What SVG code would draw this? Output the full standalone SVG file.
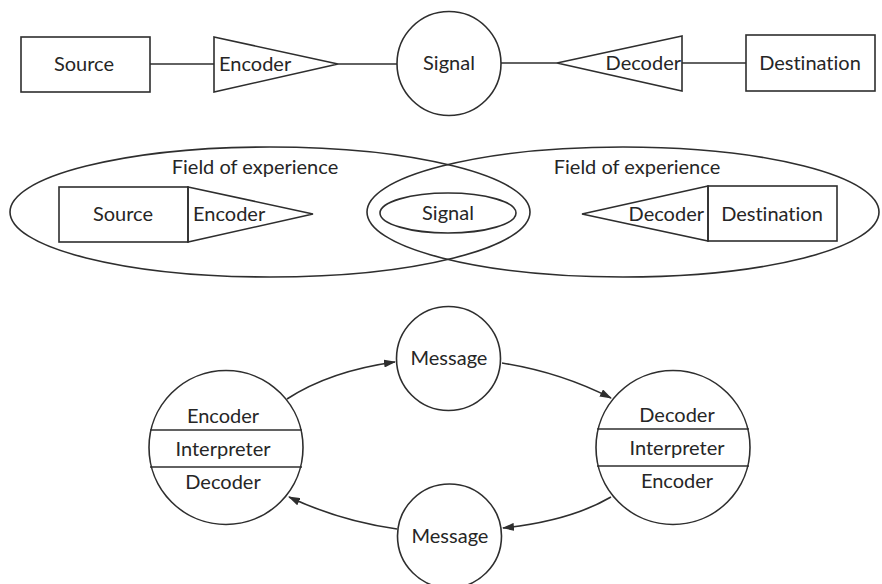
<svg xmlns="http://www.w3.org/2000/svg" width="882" height="584" viewBox="0 0 882 584">
  <defs>
    <style>
      .shape { fill: none; stroke: #2e2e2e; stroke-width: 1.6; }
      .line { fill: none; stroke: #2e2e2e; stroke-width: 1.6; }
      .lbl { font-family: Lato, "Open Sans", "Liberation Sans", sans-serif; font-size: 20px; fill: #262626; text-anchor: middle; font-variant-ligatures: none; }
      .start { text-anchor: start; }
      .end { text-anchor: end; }
    </style>
    <marker id="arrow" viewBox="0 0 12 8" refX="11" refY="4" markerWidth="12" markerHeight="8" markerUnits="userSpaceOnUse" orient="auto">
      <path d="M0,0 L12,4 L0,8 Z" fill="#2e2e2e"/>
    </marker>
  </defs>
  <rect width="882" height="584" fill="#ffffff"/>

  <!-- Row 1: linear model -->
  <g id="connectors-row1">
    <line class="line" x1="150" y1="64" x2="214" y2="64"/>
    <line class="line" x1="338" y1="64" x2="397" y2="64"/>
    <line class="line" x1="501" y1="63" x2="557" y2="63"/>
    <line class="line" x1="682" y1="63" x2="746" y2="63"/>
  </g>
  <g id="source1">
    <rect class="shape" x="21" y="37" width="129" height="55"/>
    <text class="lbl" x="84" y="71">Source</text>
  </g>
  <g id="encoder1">
    <polygon class="shape" points="214,37 338,64 214,92"/>
    <text class="lbl start" x="219" y="71">Encoder</text>
  </g>
  <g id="signal1">
    <circle class="shape" cx="449" cy="63.5" r="52"/>
    <text class="lbl" x="449" y="70">Signal</text>
  </g>
  <g id="decoder1">
    <polygon class="shape" points="682,36 557,63 682,91"/>
    <text class="lbl end" x="681" y="70">Decoder</text>
  </g>
  <g id="destination1">
    <rect class="shape" x="746" y="35" width="129" height="56"/>
    <text class="lbl" x="810" y="70">Destination</text>
  </g>

  <!-- Row 2: overlapping fields of experience -->
  <g id="field-left">
    <ellipse class="shape" cx="270" cy="212" rx="260" ry="65"/>
    <text class="lbl" x="255" y="174">Field of experience</text>
  </g>
  <g id="field-right">
    <ellipse class="shape" cx="623" cy="212" rx="256" ry="65"/>
    <text class="lbl" x="637" y="174">Field of experience</text>
  </g>
  <g id="signal2">
    <ellipse class="shape" cx="448" cy="213" rx="68" ry="20"/>
    <text class="lbl" x="448" y="220">Signal</text>
  </g>
  <g id="source2">
    <rect class="shape" x="59" y="187" width="129" height="55"/>
    <text class="lbl" x="123" y="221">Source</text>
  </g>
  <g id="encoder2">
    <polygon class="shape" points="188,187 313,214 188,242"/>
    <text class="lbl start" x="193" y="221">Encoder</text>
  </g>
  <g id="decoder2">
    <polygon class="shape" points="708,186 582,214 708,241"/>
    <text class="lbl end" x="704" y="221">Decoder</text>
  </g>
  <g id="destination2">
    <rect class="shape" x="708" y="186" width="129" height="55"/>
    <text class="lbl" x="772" y="221">Destination</text>
  </g>

  <!-- Row 3: circular model -->
  <g id="connectors-row3">
    <path class="line" d="M287,399 Q330,371 395,362" marker-end="url(#arrow)"/>
    <path class="line" d="M502,363 Q560,372 611,398" marker-end="url(#arrow)"/>
    <path class="line" d="M611,497 Q570,521 503,528" marker-end="url(#arrow)"/>
    <path class="line" d="M397,529 Q340,521 289,497" marker-end="url(#arrow)"/>
  </g>
  <g id="interpreter-left">
    <circle class="shape" cx="226" cy="447.5" r="77"/>
    <line class="line" x1="150" y1="430" x2="302" y2="430"/>
    <line class="line" x1="150" y1="467" x2="302" y2="467"/>
    <text class="lbl" x="223" y="423">Encoder</text>
    <text class="lbl" x="223" y="456">Interpreter</text>
    <text class="lbl" x="223" y="489">Decoder</text>
  </g>
  <g id="message-top">
    <circle class="shape" cx="448.5" cy="358.5" r="52"/>
    <text class="lbl" x="449" y="365">Message</text>
  </g>
  <g id="message-bottom">
    <circle class="shape" cx="449.5" cy="536" r="52"/>
    <text class="lbl" x="450" y="543">Message</text>
  </g>
  <g id="interpreter-right">
    <circle class="shape" cx="673" cy="447.5" r="77"/>
    <line class="line" x1="597" y1="429" x2="749" y2="429"/>
    <line class="line" x1="597" y1="466" x2="749" y2="466"/>
    <text class="lbl" x="677" y="422">Decoder</text>
    <text class="lbl" x="677" y="455">Interpreter</text>
    <text class="lbl" x="677" y="488">Encoder</text>
  </g>
</svg>
